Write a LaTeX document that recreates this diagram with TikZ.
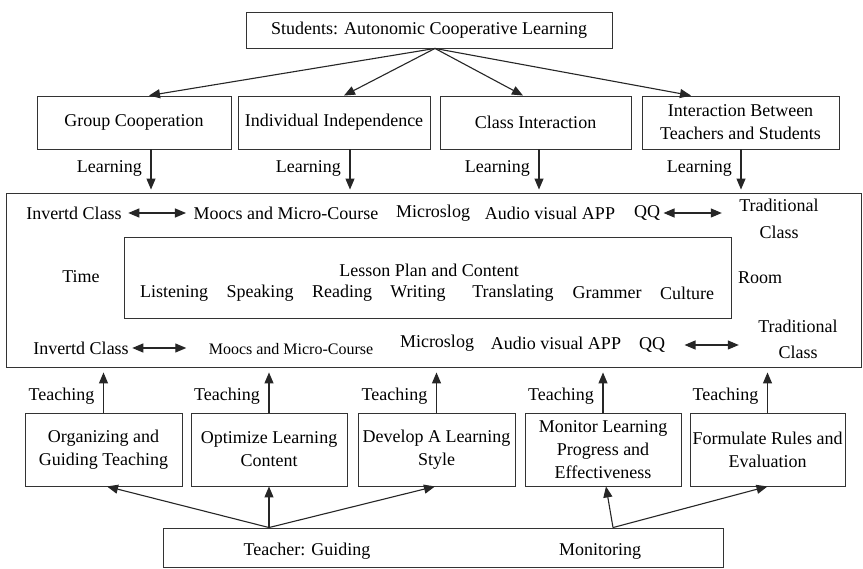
\documentclass[tikz,border=0pt]{standalone}
\usepackage{fontspec}
\setmainfont{Liberation Serif}
\usetikzlibrary{calc,arrows.meta}
\def\drawarr{\draw[color=black!85, line width=1.1pt, -{Triangle[length=11pt,width=9pt]}]}
\def\drawdbl{\draw[color=black!85, line width=1.1pt, {Triangle[length=11pt,width=9pt]}-{Triangle[length=11pt,width=9pt]}]}
\def\boxnode{\node[draw=black!80, line width=0.9pt, align=center, inner sep=0pt]}
\def\txtnode{\node[align=center]}

\begin{document}
\begin{tikzpicture}[x=1pt,y=-1pt,font=\fontsize{18}{23}\selectfont]
\fill[white] (0,0) rectangle (863,569);
\useasboundingbox (0,0) rectangle (863,569);

% ---------- students on top
\boxnode[minimum width=366pt, minimum height=36pt] (stud) at (429,30) {Students: Autonomic Cooperative Learning};
\boxnode[minimum width=194pt, minimum height=53pt] (gc) at (134,122.5) {Group Cooperation};
\boxnode[minimum width=192pt, minimum height=53pt] (ii) at (334,122.5) {Individual Independence};
\boxnode[minimum width=191pt, minimum height=53pt] (ci) at (535.5,122.5) {Class Interaction};
\boxnode[minimum width=197pt, minimum height=53pt] (ib) at (740.5,122.5) {Interaction Between\\Teachers and Students};

\coordinate (fan) at ($ (stud.south) + (6,0) $); % where the four arrows leave
\coordinate (gctop) at ($ (gc.north) + (15,0) $);
\coordinate (iitop) at ($ (ii.north) + (10,0) $);
\coordinate (citop) at ($ (ci.north) + (-12.5,0) $);
\coordinate (ibtop) at ($ (ib.north) + (-49.5,0) $);
\drawarr (fan) -- (gctop);
\drawarr (fan) -- (iitop);
\drawarr (fan) -- (citop);
\drawarr (fan) -- (ibtop);

% ---------- the big middle box
\boxnode[minimum width=855pt, minimum height=174pt] (big) at (433.5,280) {};
\boxnode[minimum width=607pt, minimum height=81pt] (plan) at (427.5,277.5) {};

% Learning arrows down into the big box
\coordinate (gcl) at ($ (gc.south) + (17,0) $);
\coordinate (iil) at ($ (ii.south) + (16,0) $);
\coordinate (cil) at ($ (ci.south) + (3.5,0) $);
\coordinate (ibl) at ($ (ib.south) + (0.5,0) $);
\drawarr[shorten >=3pt] (gcl) -- (gcl |- big.north);
\drawarr[shorten >=3pt] (iil) -- (iil |- big.north);
\drawarr[shorten >=3pt] (cil) -- (cil |- big.north);
\drawarr[shorten >=3pt] (ibl) -- (ibl |- big.north);
\node[anchor=east, inner sep=2pt] (gclab) at ($ (gcl) + (-7,19) $) {Learning};
\node[anchor=east, inner sep=2pt] (iilab) at ($ (iil) + (-7,19) $) {Learning};
\node[anchor=east, inner sep=2pt] (cilab) at ($ (cil) + (-7,19) $) {Learning};
\node[anchor=east, inner sep=2pt] (iblab) at ($ (ibl) + (-7,19) $) {Learning};

% upper row of media
\txtnode (inv1) at (74,213) {Invertd Class};
\txtnode (mooc1) at (286,213) {Moocs and Micro-Course};
\txtnode (micro1) at (433,213) {Microslog};
\txtnode (audio1) at (550,213) {Audio visual APP};
\txtnode (qq1) at (647,213) {QQ};
\txtnode[font=\fontsize{18}{27}\selectfont] (trad1) at (779,218.5) {Traditional\\Class};
\drawdbl[shorten <=3pt, shorten >=4pt] (inv1) -- (mooc1);
\drawdbl[shorten >=14pt] (qq1.east) -- (qq1.east -| trad1.west);

% time, room and the lesson plan
\txtnode (time) at (81,277) {Time};
\txtnode (room) at (760,278) {Room};
\txtnode (lesson) at (429,270) {Lesson Plan and Content};
\txtnode (listen) at (174,293) {Listening};
\txtnode (speak) at (260,293) {Speaking};
\txtnode (read) at (342,293) {Reading};
\txtnode (write) at (418,293) {Writing};
\txtnode (trans) at (513,293) {Translating};
\txtnode (gram) at (607,293) {Grammer};
\txtnode (cult) at (687,293) {Culture};

% lower row of media
\txtnode (inv3) at (81,348) {Invertd Class};
\txtnode[font=\fontsize{16}{20}\selectfont] (mooc3) at (291,349) {Moocs and Micro-Course};
\txtnode (micro3) at (437,343) {Microslog};
\txtnode (audio3) at (556,343) {Audio visual APP};
\txtnode (qq3) at (652,345) {QQ};
\txtnode[font=\fontsize{18}{26}\selectfont] (trad3) at (798,339) {Traditional\\Class};
\drawdbl[shorten >=19pt] (inv3.east) -- (inv3.east -| mooc3.west);
\drawdbl[shorten <=16pt, shorten >=16pt] (qq3.east) -- (qq3.east -| trad3.west);

% ---------- teacher tasks
\boxnode[minimum width=157pt, minimum height=73pt] (org) at (103.5,449.5) {Organizing and\\Guiding Teaching};
\boxnode[minimum width=156pt, minimum height=73pt] (opt) at (269,449.5) {Optimize Learning\\Content};
\boxnode[minimum width=157pt, minimum height=73pt] (dev) at (436.5,449.5) {Develop A Learning\\Style};
\boxnode[minimum width=156pt, minimum height=73pt] (mon) at (603,449.5) {Monitor Learning\\Progress and\\Effectiveness};
\boxnode[minimum width=155pt, minimum height=73pt] (rul) at (767.5,449.5) {Formulate Rules and\\Evaluation};

% Teaching arrows up into the big box
\drawarr[shorten >=5pt] (org.north) -- (org.north |- big.south);
\drawarr[shorten >=5pt] (opt.north) -- (opt.north |- big.south);
\drawarr[shorten >=5pt] (dev.north) -- (dev.north |- big.south);
\drawarr[shorten >=5pt] (mon.north) -- (mon.north |- big.south);
\drawarr[shorten >=5pt] (rul.north) -- (rul.north |- big.south);
\node[anchor=east, inner sep=2pt] (orglab) at ($ (org.north) + (-7,-16) $) {Teaching};
\node[anchor=east, inner sep=2pt] (optlab) at ($ (opt.north) + (-7,-16) $) {Teaching};
\node[anchor=east, inner sep=2pt] (devlab) at ($ (dev.north) + (-7,-16) $) {Teaching};
\node[anchor=east, inner sep=2pt] (monlab) at ($ (mon.north) + (-7,-16) $) {Teaching};
\node[anchor=east, inner sep=2pt] (rullab) at ($ (rul.north) + (-7,-16) $) {Teaching};

% ---------- teacher at the bottom
\boxnode[minimum width=560pt, minimum height=39pt] (teach) at (443,547.5) {};
\txtnode (guide) at (307,551) {Teacher: Guiding};
\txtnode (moni) at (600,551) {Monitoring};

\coordinate (guidesrc) at ($ (teach.north) + (-174,0) $);
\coordinate (monisrc) at ($ (teach.north) + (170,0) $);
\coordinate (orgbot) at ($ (org.south) + (3.5,0) $);
\coordinate (devbot) at ($ (dev.south) + (-1.5,0) $);
\coordinate (monbot) at ($ (mon.south) + (3,0) $);
\drawarr (guidesrc) -- (orgbot);
\drawarr (guidesrc) -- (opt.south);
\drawarr (guidesrc) -- (devbot);
\drawarr (monisrc) -- (monbot);
\drawarr (monisrc) -- (rul.south);
\end{tikzpicture}
\end{document}
